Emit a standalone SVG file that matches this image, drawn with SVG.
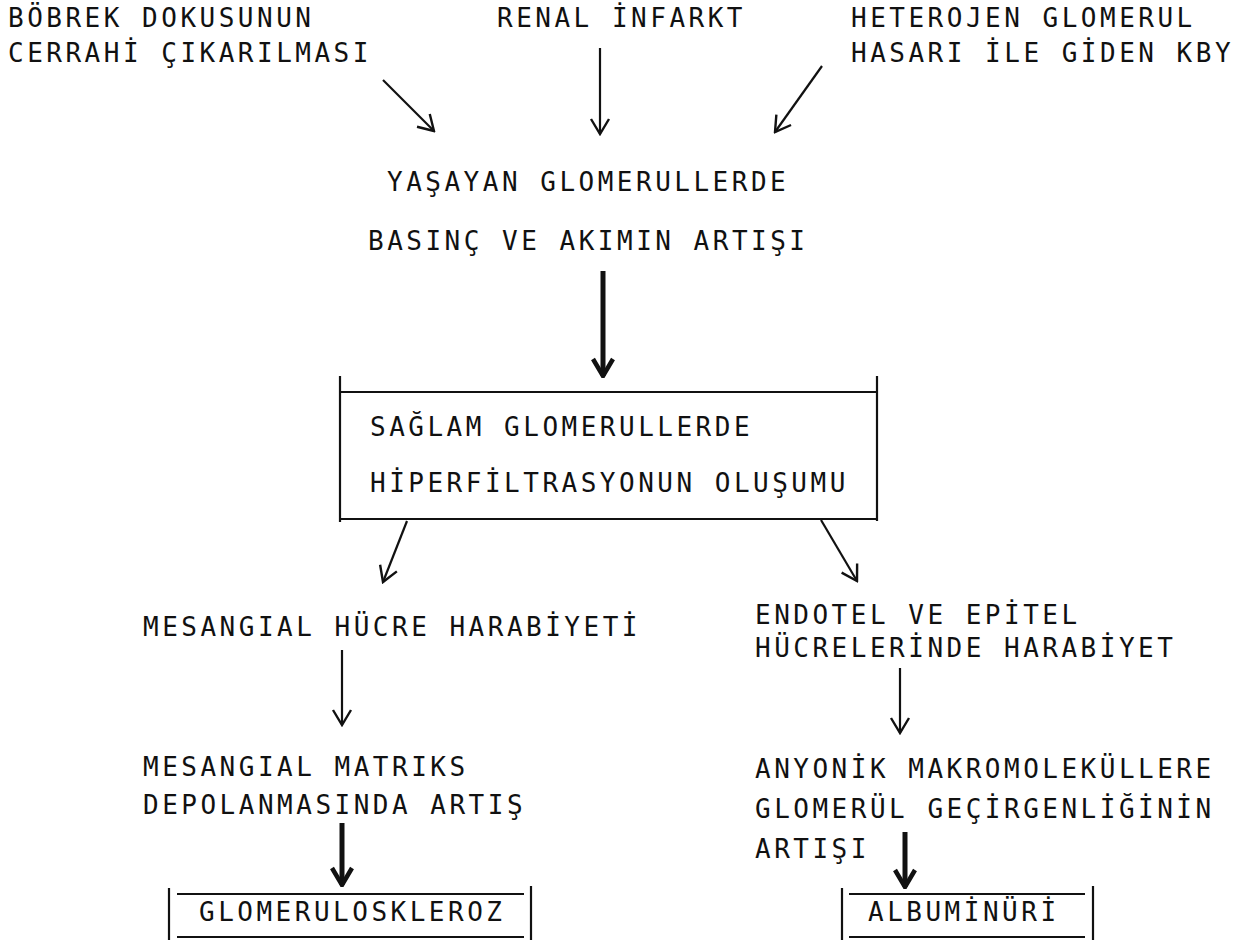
<svg xmlns="http://www.w3.org/2000/svg" width="1250" height="940" viewBox="0 0 1250 940">
<style>
text{font-family:"DejaVu Sans Mono","Liberation Mono",monospace;font-size:26px;letter-spacing:3.5px;fill:#111}
.thin{stroke:#111;stroke-width:2.2;fill:none}
.thick{stroke:#111;stroke-width:5;fill:none}
.box{stroke:#111;stroke-width:2.2;fill:none}
</style>
<defs>
<marker id="ah" markerUnits="userSpaceOnUse" viewBox="-18 -12 20 24" markerWidth="20" markerHeight="24" refX="0" refY="0" orient="auto">
<path d="M-15,-9 L0,0 L-15,9" stroke="#111" stroke-width="2.4" fill="none"/>
</marker>
<marker id="ahb" markerUnits="userSpaceOnUse" viewBox="-20 -14 22 28" markerWidth="22" markerHeight="28" refX="0" refY="0" orient="auto">
<path d="M-17,-10 L0,0 L-17,10" stroke="#111" stroke-width="4.5" fill="none"/>
</marker>
</defs>
<rect width="1250" height="940" fill="#fff"/>

<g id="n1"><text x="8" y="27">BÖBREK DOKUSUNUN</text><text x="8" y="62">CERRAHİ ÇIKARILMASI</text></g>
<g id="n2"><text x="497" y="27">RENAL İNFARKT</text></g>
<g id="n3"><text x="851" y="27">HETEROJEN GLOMERUL</text><text x="851" y="62">HASARI İLE GİDEN KBY</text></g>
<g id="n4"><text x="387" y="191">YAŞAYAN GLOMERULLERDE</text><text x="368" y="250">BASINÇ VE AKIMIN ARTIŞI</text></g>
<g id="n5">
<line class="box" x1="340" y1="376" x2="340" y2="522"/>
<line class="box" x1="877" y1="376" x2="877" y2="521"/>
<line class="box" x1="341" y1="392" x2="876" y2="392"/>
<line class="box" x1="341" y1="519" x2="876" y2="519"/>
<text x="370" y="436">SAĞLAM GLOMERULLERDE</text><text x="370" y="492">HİPERFİLTRASYONUN OLUŞUMU</text>
</g>
<g id="n6"><text x="143" y="636">MESANGIAL HÜCRE HARABİYETİ</text></g>
<g id="n7"><text x="755" y="624">ENDOTEL VE EPİTEL</text><text x="755" y="657">HÜCRELERİNDE HARABİYET</text></g>
<g id="n8"><text x="143" y="776">MESANGIAL MATRIKS</text><text x="143" y="814">DEPOLANMASINDA ARTIŞ</text></g>
<g id="n9"><text x="755" y="778">ANYONİK MAKROMOLEKÜLLERE</text><text x="755" y="818">GLOMERÜL GEÇİRGENLİĞİNİN</text><text x="755" y="858">ARTIŞI</text></g>
<g id="n10">
<line class="box" x1="169" y1="888" x2="169" y2="940"/>
<line class="box" x1="531" y1="886" x2="531" y2="940"/>
<line class="box" x1="177" y1="894" x2="524" y2="894"/>
<line class="box" x1="177" y1="937" x2="524" y2="937"/>
<text x="199" y="921">GLOMERULOSKLEROZ</text>
</g>
<g id="n11">
<line class="box" x1="842" y1="888" x2="842" y2="940"/>
<line class="box" x1="1093" y1="886" x2="1093" y2="940"/>
<line class="box" x1="849" y1="894" x2="1085" y2="894"/>
<line class="box" x1="849" y1="937" x2="1085" y2="937"/>
<text x="868" y="921">ALBUMİNÜRİ</text>
</g>

<g id="connectors">
<line class="thin" x1="383" y1="80" x2="434" y2="131" marker-end="url(#ah)"/>
<line class="thin" x1="600" y1="48" x2="600" y2="134" marker-end="url(#ah)"/>
<line class="thin" x1="822" y1="66" x2="775" y2="132" marker-end="url(#ah)"/>
<line class="thick" x1="603" y1="271" x2="603" y2="376" marker-end="url(#ahb)"/>
<line class="thin" x1="407" y1="521" x2="383" y2="582" marker-end="url(#ah)"/>
<line class="thin" x1="821" y1="520" x2="857" y2="581" marker-end="url(#ah)"/>
<line class="thin" x1="342" y1="650" x2="342" y2="725" marker-end="url(#ah)"/>
<line class="thin" x1="900" y1="668" x2="900" y2="733" marker-end="url(#ah)"/>
<line class="thick" x1="342" y1="823" x2="342" y2="885" marker-end="url(#ahb)"/>
<line class="thick" x1="905" y1="832" x2="905" y2="887" marker-end="url(#ahb)"/>
</g>
</svg>
